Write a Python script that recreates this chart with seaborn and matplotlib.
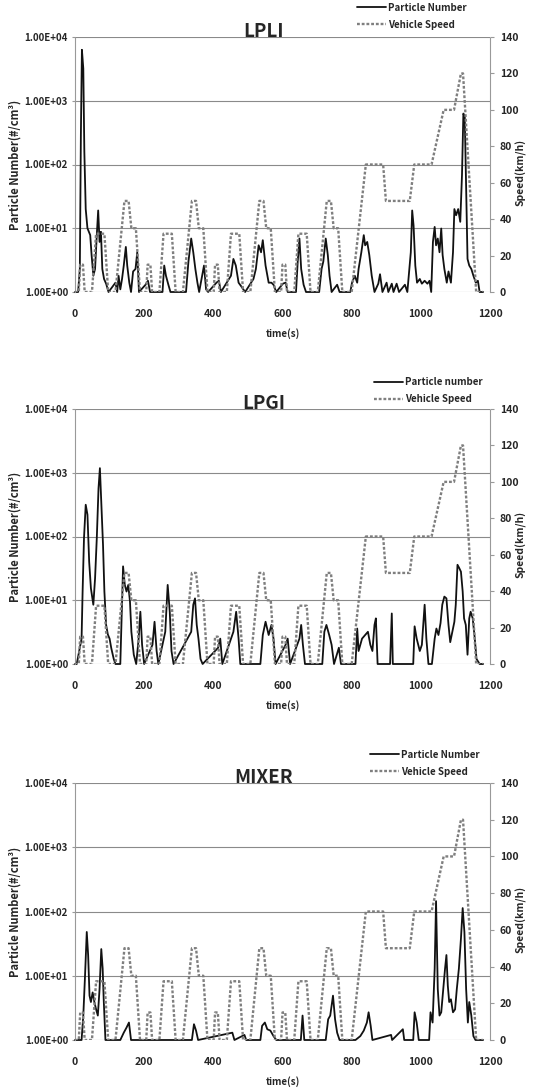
import numpy as np
import pandas as pd
import matplotlib
matplotlib.use("Agg")
import matplotlib.pyplot as plt
from matplotlib.ticker import NullLocator
import seaborn as sns

sns.set_style("white")
plt.rcParams['font.family'] = ['Noto Sans CJK KR', 'DejaVu Sans']

# ---------------- data ----------------
speed_t = [0, 11, 15, 23, 28, 49, 61, 85, 96, 117, 143, 155, 163, 176, 188,
           206, 210, 218, 223, 244, 256, 280, 291, 312, 338, 350, 358, 371, 383,
           401, 405, 413, 418, 439, 451, 475, 486, 507, 533, 545, 553, 566, 578,
           596, 600, 608, 613, 634, 646, 670, 681, 702, 728, 740, 748, 761, 773,
           800, 841, 891, 899, 968, 981, 1031, 1066, 1096, 1116, 1122, 1160, 1180]
speed_v = [0, 0, 15, 15, 0, 0, 32, 32, 0, 0, 50, 50, 35, 35, 0,
           0, 15, 15, 0, 0, 32, 32, 0, 0, 50, 50, 35, 35, 0,
           0, 15, 15, 0, 0, 32, 32, 0, 0, 50, 50, 35, 35, 0,
           0, 15, 15, 0, 0, 32, 32, 0, 0, 50, 50, 35, 35, 0,
           0, 70, 70, 50, 50, 70, 70, 100, 100, 120, 120, 0, 0]

lpli_t = [0, 9, 14, 17, 20, 24, 27, 31, 36, 44,
          48, 53, 58, 63, 67, 71, 75, 79, 84, 90,
          97, 117, 122, 126, 131, 136, 141, 147, 151, 157,
          162, 168, 175, 180, 185, 204, 211, 217, 253, 258,
          263, 270, 276, 321, 328, 336, 342, 348, 354, 359,
          373, 379, 385, 409, 416, 422, 451, 458, 465, 473,
          482, 492, 516, 523, 531, 538, 543, 551, 560, 568,
          574, 582, 601, 609, 615, 639, 644, 649, 654, 661,
          668, 706, 713, 718, 725, 731, 736, 742, 758, 765,
          796, 801, 809, 816, 820, 828, 835, 839, 845, 851,
          858, 866, 877, 882, 889, 901, 906, 916, 921, 930,
          937, 954, 961, 971, 975, 979, 984, 989, 997, 1003,
          1011, 1019, 1025, 1030, 1035, 1040, 1044, 1049, 1054, 1059,
          1063, 1068, 1075, 1080, 1087, 1093, 1097, 1102, 1108, 1114,
          1119, 1123, 1127, 1131, 1135, 1140, 1146, 1152, 1159, 1165,
          1170, 1180]
lpli_pn = [1.0, 1.0, 2.3, 290, 6300, 3200, 160, 20, 10, 7.8,
           3.8, 1.8, 2.3, 7.8, 19, 6.1, 8.8, 2.3, 1.6, 1.35,
           1.0, 1.4, 1.0, 1.8, 1.1, 1.6, 2.6, 5.1, 2.6, 1.4,
           1.0, 2.1, 2.3, 4.2, 1.0, 1.3, 1.5, 1.0, 1.0, 2.6,
           1.8, 1.3, 1.0, 1.0, 3.0, 6.9, 4.2, 2.3, 1.4, 1.0,
           2.6, 1.1, 1.0, 1.4, 1.5, 1.0, 1.8, 3.3, 2.6, 1.4,
           1.2, 1.0, 1.6, 2.3, 5.4, 4.2, 6.5, 2.6, 1.4, 1.4,
           1.3, 1.0, 1.35, 1.4, 1.0, 1.0, 3.0, 6.9, 2.3, 1.3,
           1.0, 1.0, 2.3, 3.0, 6.9, 3.8, 1.8, 1.0, 1.3, 1.0,
           1.0, 1.4, 1.8, 1.4, 2.3, 4.2, 7.8, 5.4, 6.1, 3.8,
           1.8, 1.0, 1.35, 1.9, 1.0, 1.4, 1.0, 1.35, 1.0, 1.35,
           1.0, 1.3, 1.0, 4.2, 19, 11, 2.6, 1.4, 1.6, 1.35,
           1.5, 1.35, 1.5, 1.0, 6.1, 10.5, 5.4, 6.9, 4.2, 9.9,
           3.8, 2.3, 1.4, 2.1, 1.4, 4.2, 20, 16, 20, 12.6,
           68, 630, 560, 47, 3.3, 2.6, 2.3, 1.8, 1.4, 1.5,
           1.0, 1.0]

lpgi_t = [0, 5, 19, 22, 26, 31, 36, 41, 46, 53,
          58, 63, 68, 72, 76, 81, 85, 90, 95, 100,
          105, 112, 117, 131, 136, 139, 144, 149, 154, 159,
          163, 170, 177, 184, 189, 194, 200, 224, 230, 236,
          241, 261, 268, 274, 279, 285, 336, 342, 347, 352,
          357, 363, 369, 414, 420, 426, 458, 466, 473, 478,
          536, 543, 551, 560, 568, 574, 580, 609, 615, 622,
          649, 654, 659, 665, 715, 721, 727, 735, 742, 749,
          763, 769, 811, 816, 820, 830, 839, 847, 854, 860,
          866, 870, 875, 911, 916, 919, 978, 982, 988, 997,
          1003, 1011, 1016, 1022, 1032, 1040, 1045, 1051, 1057, 1062,
          1068, 1074, 1080, 1085, 1091, 1097, 1101, 1106, 1111, 1116,
          1121, 1125, 1130, 1135, 1140, 1144, 1150, 1156, 1161, 1170,
          1180]
lpgi_pn = [1.0, 1.0, 2.5, 13.7, 94, 315, 220, 40, 15.4, 8.5,
           22, 94, 570, 1180, 355, 74, 13.7, 4.1, 2.9, 2.5,
           1.76, 1.2, 1.0, 1.0, 8.5, 34, 17.4, 13.7, 17.4, 9.5,
           3.2, 1.4, 1.0, 2.5, 6.6, 2.0, 1.0, 2.0, 4.6, 1.6,
           1.0, 3.2, 17.4, 6.6, 1.6, 1.0, 3.2, 8.5, 10.7, 4.1,
           2.5, 1.2, 1.0, 1.8, 2.5, 1.0, 3.2, 6.6, 2.5, 1.0,
           1.0, 2.85, 4.6, 2.85, 4.1, 2.5, 1.0, 2.0, 2.5, 1.0,
           2.5, 4.1, 2.0, 1.0, 1.0, 3.2, 4.1, 2.85, 2.0, 1.0,
           1.8, 1.0, 1.0, 3.6, 1.6, 2.5, 2.85, 3.2, 2.0, 1.6,
           4.1, 5.2, 1.0, 1.0, 6.2, 1.0, 1.0, 3.9, 2.5, 1.6,
           2.0, 8.5, 2.5, 1.0, 1.0, 2.5, 3.6, 2.85, 4.4, 8.5,
           11.4, 10.7, 4.1, 2.2, 3.2, 4.6, 8.5, 36, 32, 28,
           13.7, 5.2, 4.1, 1.4, 5.2, 6.6, 5.2, 2.5, 1.2, 1.0,
           1.0]

mixer_t = [0, 19, 24, 29, 34, 38, 42, 46, 51, 56,
           61, 66, 71, 76, 80, 83, 88, 131, 141, 149,
           156, 162, 338, 344, 350, 356, 455, 461, 490, 495,
           536, 541, 549, 556, 565, 574, 582, 653, 658, 663,
           725, 732, 738, 746, 752, 758, 765, 811, 825, 835,
           844, 849, 855, 860, 914, 917, 948, 952, 978, 982,
           988, 994, 1024, 1028, 1034, 1040, 1044, 1049, 1054, 1059,
           1064, 1070, 1074, 1078, 1082, 1087, 1093, 1099, 1104, 1110,
           1116, 1121, 1126, 1131, 1136, 1140, 1146, 1152, 1158, 1180]
mixer_pn = [1.0, 1.0, 2.4, 10, 48, 21, 4.9, 3.9, 5.5, 3.9,
            3.0, 2.4, 6.2, 26, 12.9, 4.3, 1.0, 1.0, 1.3, 1.56,
            1.87, 1.0, 1.0, 1.76, 1.4, 1.0, 1.3, 1.0, 1.2, 1.0,
            1.0, 1.66, 1.87, 1.47, 1.4, 1.15, 1.0, 1.0, 2.4, 1.0,
            1.0, 2.1, 2.4, 4.9, 2.1, 1.3, 1.0, 1.0, 1.15, 1.4,
            1.87, 2.7, 1.66, 1.0, 1.2, 1.0, 1.47, 1.0, 1.0, 2.7,
            1.87, 1.0, 1.0, 2.7, 1.87, 12.9, 145, 6.2, 2.4, 2.7,
            5.5, 12.9, 21, 7.0, 3.9, 4.3, 2.7, 3.0, 6.2, 12.9,
            38, 113, 48, 6.2, 1.87, 3.9, 2.4, 1.15, 1.0, 1.0]

titles = ['LPLI', 'LPGI', 'MIXER']
pn_labels = ['Particle Number', 'Particle number', 'Particle Number']
speed_label = 'Vehicle Speed'
left_ticks = [1, 10, 100, 1000, 10000]
left_ticklabels = ['1.00E+00', '1.00E+01', '1.00E+02', '1.00E+03', '1.00E+04']
right_ticks = [0, 20, 40, 60, 80, 100, 120, 140]
x_ticks = [0, 200, 400, 600, 800, 1000, 1200]

series = [(lpli_t, lpli_pn), (lpgi_t, lpgi_pn), (mixer_t, mixer_pn)]

# ---------------- layout ----------------
W, H = 543, 1089
ax_left, ax_right = 75, 490
ax_tops = [37, 409, 783]
ax_bottoms = [292, 664, 1040]
legend_anchor = [(0.68, 1.135), (0.72, 1.125), (0.71, 1.13)]

fig = plt.figure(figsize=(W / 100, H / 100), dpi=100)
speed_df = pd.DataFrame({'time': speed_t, 'speed': speed_v})

for i in range(3):
    t, pn = series[i]
    rect = [ax_left / W, 1 - ax_bottoms[i] / H, (ax_right - ax_left) / W,
            (ax_bottoms[i] - ax_tops[i]) / H]
    ax = fig.add_axes(rect)
    df = pd.DataFrame({'time': t, 'pn': pn})
    sns.lineplot(data=df, x='time', y='pn', ax=ax, color='#111111', lw=1.3,
                 legend=False, estimator=None)
    ax.set_yscale('log')
    ax.set_ylim(1, 1e4)
    ax.set_xlim(0, 1200)
    ax.set_yticks(left_ticks)
    ax.set_yticklabels(left_ticklabels)
    ax.yaxis.set_minor_locator(NullLocator())
    ax.set_xticks(x_ticks)
    ax.set_xticklabels([str(v) for v in x_ticks])
    ax.grid(axis='y', color='#8a8a8a', lw=0.8)
    ax.grid(axis='x', visible=False)
    for s in ['top', 'bottom']:
        ax.spines[s].set_visible(False)
    ax.spines['left'].set_linestyle((0, (1, 1)))
    ax.spines['left'].set_color('#999999')
    ax.spines['right'].set_visible(False)
    ax.tick_params(axis='y', length=2, color='#999999', pad=3, labelsize=7)
    ax.tick_params(axis='x', length=0, pad=12, labelsize=7.5)
    for lab in ax.get_yticklabels() + ax.get_xticklabels():
        lab.set_fontweight('bold')
    ax.set_ylabel('Particle Number(#/cm³)', fontsize=8, fontweight='bold')
    ax.yaxis.set_label_coords(-0.128, 0.5)
    ax.set_xlabel('time(s)', fontsize=7, fontweight='bold', labelpad=7)
    pn_line = ax.lines[0]
    pn_line.set_clip_on(False)

    ax2 = ax.twinx()
    sns.lineplot(data=speed_df, x='time', y='speed', ax=ax2, color='#7f7f7f',
                 lw=1.7, legend=False, estimator=None)
    sp_line = ax2.lines[0]
    sp_line.set_linestyle((0, (1.2, 0.8)))
    ax2.set_ylim(0, 140)
    ax2.set_xlim(0, 1200)
    ax2.set_yticks(right_ticks)
    ax2.set_yticklabels([str(v) for v in right_ticks])
    for s in ['top', 'bottom', 'left']:
        ax2.spines[s].set_visible(False)
    ax2.spines['right'].set_linestyle((0, (1, 1)))
    ax2.spines['right'].set_color('#999999')
    ax2.tick_params(axis='y', length=3, color='#999999', pad=4, labelsize=7.5)
    for lab in ax2.get_yticklabels():
        lab.set_fontweight('bold')
    ax2.set_ylabel('Speed(km/h)', fontsize=7.5, fontweight='bold')
    ax2.yaxis.set_label_coords(1.062, 0.47)
    ax2.set_xlabel('')

    ax.text(0.455, 0.985, titles[i], transform=ax.transAxes, ha='center',
            va='bottom', fontsize=13.5, fontweight='bold')

    ax2.legend(handles=[pn_line, sp_line], labels=[pn_labels[i], speed_label],
               loc='upper left', bbox_to_anchor=legend_anchor[i], frameon=False,
               prop={'size': 7, 'weight': 'bold'}, handlelength=3.0,
               handletextpad=0.2, labelspacing=0.75, borderpad=0,
               borderaxespad=0)

fig.savefig('out.png', dpi=100)
